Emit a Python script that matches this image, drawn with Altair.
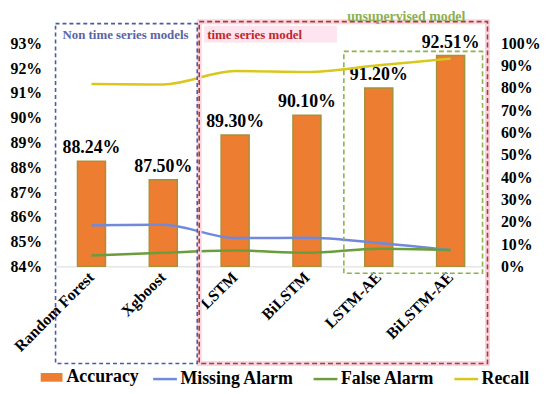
import altair as alt
import pandas as pd

models = ["Random Forest", "Xgboost", "LSTM", "BiLSTM", "LSTM-AE", "BiLSTM-AE"]
accuracy = [0.8824, 0.8750, 0.8930, 0.9010, 0.9120, 0.9251]
missing_alarm = [0.184, 0.187, 0.127, 0.128, 0.105, 0.073]
false_alarm = [0.049, 0.061, 0.071, 0.061, 0.079, 0.073]
recall = [0.818, 0.816, 0.876, 0.872, 0.902, 0.932]
series = ["Missing Alarm", "False Alarm", "Recall"]
series_colors = ["#7189db", "#6b9d3c", "#d9c81c"]
left_ticks = [0.84, 0.85, 0.86, 0.87, 0.88, 0.89, 0.90, 0.91, 0.92, 0.93]
right_ticks = [0.0, 0.1, 0.2, 0.3, 0.4, 0.5, 0.6, 0.7, 0.8, 0.9, 1.0]
acc_base = 0.84

FONT = "'Liberation Serif', 'Times New Roman', Tinos, 'DejaVu Serif', serif"

bar_df = pd.DataFrame({"model": models, "accuracy": accuracy, "metric": ["Accuracy"] * len(models)})
line_df = pd.DataFrame({
    "model": models * 3,
    "series": [s for s in series for _ in models],
    "value": missing_alarm + false_alarm + recall,
})

x_axis = alt.Axis(title=None, labelAngle=-45, labelAlign="right", labelBaseline="middle",
                  labelFont=FONT, labelFontWeight="bold", labelFontSize=16, labelColor="black",
                  labelPadding=8, ticks=False, domainColor="#d9d9d9", domainWidth=1,
                  labelOverlap=False)
x_scale = alt.Scale(paddingInner=0.61, paddingOuter=0.305)
left_axis = alt.Axis(orient="left", values=left_ticks, format=".0%", title=None,
                     labelFont=FONT, labelFontWeight="bold", labelFontSize=16,
                     labelColor="black", domain=False, ticks=False, tickSize=0,
                     grid=False, labelPadding=14, labelOverlap=False, labelFlush=False)
left_scale = alt.Scale(domain=[0.84, 0.93], zero=False, nice=False)

bars = alt.Chart(bar_df).mark_bar(stroke="#a3923a", strokeWidth=1.5).encode(
    x=alt.X("model:N", sort=models, scale=x_scale, axis=x_axis),
    y=alt.Y("accuracy:Q", scale=left_scale, axis=left_axis),
    y2=alt.datum(acc_base),
    fill=alt.Fill("metric:N", scale=alt.Scale(domain=["Accuracy"], range=["#ED7D31"]),
                  legend=alt.Legend(orient="none", legendX=-15, legendY=326, title=None,
                                    symbolType="M-1,-0.4H1V0.4H-1Z", symbolSize=484,
                                    symbolStrokeWidth=0, labelFont=FONT, labelFontWeight="bold",
                                    labelFontSize=18, labelColor="black", labelOffset=4)),
)

labels = alt.Chart(bar_df).mark_text(font=FONT, fontWeight="bold", fontSize=18, color="black",
                                     baseline="alphabetic", dy=-8).encode(
    x=alt.X("model:N", sort=models, scale=x_scale, axis=x_axis),
    y=alt.Y("accuracy:Q", scale=left_scale, axis=left_axis),
    text=alt.Text("accuracy:Q", format=".2%"),
)

lines = alt.Chart(line_df).mark_line(strokeWidth=2.5, interpolate="monotone").encode(
    x=alt.X("model:N", sort=models, scale=x_scale, axis=x_axis),
    y=alt.Y("value:Q", scale=alt.Scale(domain=[0, 1], nice=False),
            axis=alt.Axis(orient="right", values=right_ticks, format=".0%", title=None,
                          labelFont=FONT, labelFontWeight="bold", labelFontSize=16,
                          labelColor="black", domain=False, ticks=False, tickSize=0,
                          grid=False, labelPadding=14, labelOverlap=False)),
    color=alt.Color("series:N", scale=alt.Scale(domain=series, range=series_colors),
                    legend=alt.Legend(orient="none", legendX=97, legendY=325, title=None,
                                      direction="horizontal", symbolType="stroke",
                                      symbolSize=576, symbolStrokeWidth=2.5,
                                      labelFont=FONT, labelFontWeight="bold", labelFontSize=18,
                                      labelColor="black", labelOffset=2, columnPadding=14)),
)

# annotation boxes and captions
pink_halo = alt.Chart().mark_rect(fill=None, stroke="#fbd3e2", strokeWidth=5).encode(
    x=alt.value(145), x2=alt.value(436), y=alt.value(-22), y2=alt.value(323))
red_box = alt.Chart().mark_rect(fill=None, stroke="#a5402a", strokeWidth=1.6, strokeDash=[5, 3]).encode(
    x=alt.value(145), x2=alt.value(436), y=alt.value(-22), y2=alt.value(323))
blue_box = alt.Chart().mark_rect(fill=None, stroke="#4a5aa8", strokeWidth=1.6, strokeDash=[4, 3]).encode(
    x=alt.value(0), x2=alt.value(143), y=alt.value(-20), y2=alt.value(323))
green_box = alt.Chart().mark_rect(fill=None, stroke="#8db34a", strokeWidth=1.6, strokeDash=[5, 3]).encode(
    x=alt.value(291), x2=alt.value(431), y=alt.value(8), y2=alt.value(232))
ts_bg = alt.Chart().mark_rect(fill="#fde4ee").encode(
    x=alt.value(150), x2=alt.value(284), y=alt.value(-18), y2=alt.value(-1))
t1 = alt.Chart().mark_text(text="Non time series models", font=FONT, fontWeight="bold", fontSize=13,
                           color="#5b63a6", align="left", baseline="middle").encode(
    x=alt.value(7), y=alt.value(-9))
t2 = alt.Chart().mark_text(text="time series model", font=FONT, fontWeight="bold", fontSize=13,
                           color="#c0282d", align="left", baseline="middle").encode(
    x=alt.value(153), y=alt.value(-9))
t3 = alt.Chart().mark_text(text="unsupervised model", font=FONT, fontWeight="bold", fontSize=14,
                           color="#8db052", align="center", baseline="middle").encode(
    x=alt.value(354), y=alt.value(-27))

chart = alt.layer(
    alt.layer(bars, labels),
    lines,
    pink_halo, ts_bg, red_box, blue_box, green_box, t1, t2, t3,
).resolve_scale(y="independent", color="independent", fill="independent").properties(
    width=435, height=225,
    autosize=alt.AutoSizeParams(type="none"),
    padding={"left": 48, "top": 34, "right": 56, "bottom": 124},
).configure_view(stroke=None)

chart.save("out.html", embed_options={"renderer": "svg", "actions": False})
